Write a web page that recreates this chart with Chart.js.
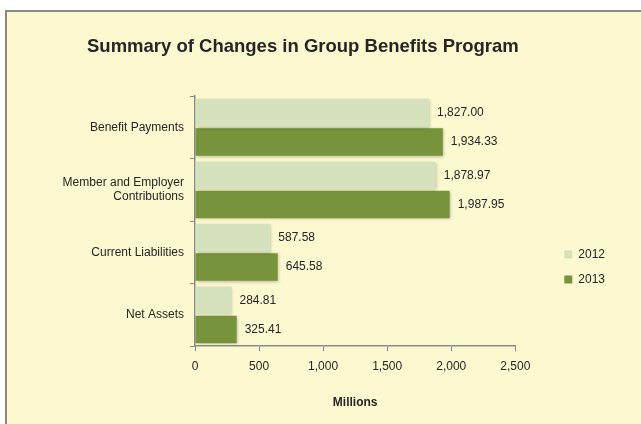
<!DOCTYPE html>
<html>
<head>
<meta charset="utf-8">
<script src="https://cdn.jsdelivr.net/npm/chart.js@4.4.1/dist/chart.umd.min.js"></script>
<style>
  html, body { margin: 0; padding: 0; background: #fff; }
  #frame {
    position: absolute; left: 5px; top: 10px; width: 640px; height: 420px;
    background: #fcf8cf; border-left: 2px solid #8a8a8a; border-top: 2px solid #8a8a8a;
  }
  #wrap { position: absolute; left: 0; top: 0; width: 641px; height: 424px; }
</style>
</head>
<body>
<div id="frame"></div>
<div id="wrap"><canvas id="chart" width="641" height="424"></canvas></div>
<script>
const categories = ['Benefit Payments', ['Member and Employer', 'Contributions'], 'Current Liabilities', 'Net Assets']
const values2012 = [1827.00, 1878.97, 587.58, 284.81]
const values2013 = [1934.33, 1987.95, 645.58, 325.41]
const seriesNames = ['2012', '2013']
const xMax = 2500
const xStep = 500

const font = "'Liberation Sans', Arial, sans-serif"
const colors = ['#d6e1bd', '#77933c']

// number labels at the end of each bar
const valueLabels = {
  id: 'valueLabels',
  afterDatasetsDraw(chart) {
    const ctx = chart.ctx
    ctx.save()
    ctx.font = '12px ' + font
    ctx.fillStyle = '#262626'
    ctx.textBaseline = 'middle'
    ctx.textAlign = 'left'
    chart.data.datasets.forEach((ds, i) => {
      chart.getDatasetMeta(i).data.forEach((bar, j) => {
        const txt = ds.data[j].toLocaleString('en-US', { minimumFractionDigits: 2, maximumFractionDigits: 2 })
        ctx.fillText(txt, bar.x + 8, bar.y)
      })
    })
    ctx.restore()
  }
}

// soft shadow under the bars
const barShadow = {
  id: 'barShadow',
  beforeDatasetsDraw(chart) {
    const ctx = chart.ctx
    ctx.save()
    ctx.shadowColor = 'rgba(0,0,0,0.25)'
    ctx.shadowBlur = 3
    ctx.shadowOffsetX = 1
    ctx.shadowOffsetY = 1
  },
  afterDatasetsDraw(chart) {
    chart.ctx.restore()
  }
}

// nudge title and legend to where the original has them
const boxShift = {
  id: 'boxShift',
  afterLayout(chart) {
    const t = chart.titleBlock
    const dx = 87 - t.left
    t.left += dx
    t.right += dx
    const lg = chart.legend
    lg.top += 42
    lg.bottom += 42
    lg.left += 36
    lg.right += 36
  }
}

new Chart(document.getElementById('chart'), {
  type: 'bar',
  data: {
    labels: categories,
    datasets: [
      { label: seriesNames[0], data: values2012, backgroundColor: colors[0] },
      { label: seriesNames[1], data: values2013, backgroundColor: colors[1] }
    ]
  },
  options: {
    indexAxis: 'y',
    responsive: false,
    animation: false,
    barPercentage: 0.95,
    categoryPercentage: 0.93,
    layout: { padding: { left: 45, right: 62, top: 36, bottom: 10 } },
    plugins: {
      title: {
        display: true,
        text: 'Summary of Changes in Group Benefits Program',
        align: 'start',
        color: '#262626',
        font: { family: font, size: 18.5, weight: 'bold' },
        padding: { top: 0, bottom: 38 }
      },
      legend: {
        position: 'right',
        labels: {
          boxWidth: 8, boxHeight: 8, padding: 13,
          color: '#262626',
          font: { family: font, size: 12 }
        }
      },
      tooltip: { enabled: false }
    },
    scales: {
      x: {
        min: 0, max: xMax,
        ticks: { stepSize: xStep, color: '#262626', padding: 8, font: { family: font, size: 12 } },
        grid: { drawOnChartArea: false, tickLength: 5, color: '#8a8a8a' },
        border: { color: '#8a8a8a', width: 1.5 },
        title: {
          display: true, text: 'Millions', color: '#262626',
          font: { family: font, size: 12, weight: 'bold' },
          padding: { top: 14, bottom: 4 }
        }
      },
      y: {
        afterFit(scale) { scale.width = 150 },
        ticks: { color: '#262626', padding: 6, font: { family: font, size: 12 } },
        grid: { drawOnChartArea: false, offset: true, tickLength: 5, color: '#8a8a8a' },
        border: { color: '#8a8a8a', width: 1.5 }
      }
    }
  },
  plugins: [barShadow, valueLabels, boxShift]
})
</script>
</body>
</html>
